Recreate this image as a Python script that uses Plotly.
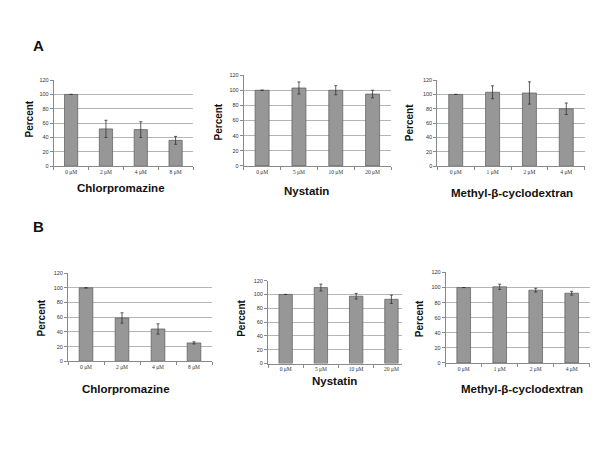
import plotly.graph_objects as go

W, H = 600, 450

# ---------------- data ----------------
chlor_labels = ["0 μM", "2 μM", "4 μM", "8 μM"]
nyst_labels = ["0 μM", "5 μM", "10 μM", "20 μM"]
mbcd_labels = ["0 μM", "1 μM", "2 μM", "4 μM"]

A_chlor = [100, 52, 51, 36]
A_chlor_err = [None, 12, 11, 5.5]
A_nyst = [100, 103, 100, 95]
A_nyst_err = [None, 8, 6, 5]
A_mbcd = [100, 103, 102, 80]
A_mbcd_err = [None, 9, 15.5, 8]

B_chlor = [100, 59, 44, 25]
B_chlor_err = [None, 7, 7, 1.5]
B_nyst = [100, 110, 97.5, 93]
B_nyst_err = [None, 5, 4, 6]
B_mbcd = [100, 101, 96.5, 92.5]
B_mbcd_err = [None, 3.5, 2.5, 2.5]

y_ticks = [0, 20, 40, 60, 80, 100, 120]
grid_vals = [20, 40, 60, 80, 100]

titles = ["Chlorpromazine", "Nystatin", "Methyl-β-cyclodextran"]

# ---------------- layout of panels (pixels) ----------------
panels = [
    (chlor_labels, A_chlor, A_chlor_err, (45.7, 185, 70, 157.3), [-0.5, 3.5], titles[0], (113, 179), (22, 110)),
    (nyst_labels, A_nyst, A_nyst_err, (235.7, 383, 65, 157), [-0.5, 3.5], titles[1], (298, 182.7), (210, 113)),
    (mbcd_labels, A_mbcd, A_mbcd_err, (429.3, 576.7, 70, 157.3), [-0.5, 3.5], titles[2], (504, 184), (401.7, 113)),
    (chlor_labels, B_chlor, B_chlor_err, (60, 204, 265.7, 355), [-0.5, 3.5], titles[0], (118, 382.7), (34, 311.7)),
    (nyst_labels, B_nyst, B_nyst_err, (260, 394, 273.3, 357.3), [-0.5, 3.3], titles[1], (326.7, 375), (233.3, 311.7)),
    (mbcd_labels, B_mbcd, B_mbcd_err, (437.7, 581.7, 265, 356.7), [-0.5, 3.5], titles[2], (514, 383.3), (411.7, 311.7)),
]

fig = go.Figure()
layout = dict(
    width=W, height=H,
    margin=dict(l=0, r=0, t=0, b=0),
    paper_bgcolor="white", plot_bgcolor="white",
    showlegend=False,
    bargap=0.62,
    font=dict(family="Liberation Sans, Arial, sans-serif", color="#222"),
)
annotations = []

for i, (labels, vals, errs, (x0, x1, yt, yb), xr, title, tpos, ppos) in enumerate(panels):
    n = "" if i == 0 else str(i + 1)
    fig.add_trace(go.Bar(
        x=labels, y=vals,
        xaxis="x" + n, yaxis="y" + n,
        marker=dict(color="#979797", line=dict(color="#5a5a5a", width=0.7)),
        error_y=dict(type="data", array=errs, visible=True, color="#333333", thickness=0.8, width=1.5),
    ))
    layout["xaxis" + n] = dict(
        domain=[x0 / W, x1 / W], anchor="y" + n, range=xr,
        type="category",
        showline=True, linecolor="#8a8a8a", linewidth=1,
        ticks="outside", tickson="boundaries", ticklen=3, tickcolor="#8a8a8a",
        tickfont=dict(family="Liberation Serif, Times New Roman, serif", size=5.5, color="#333"),
        showgrid=False, zeroline=False, fixedrange=True,
    )
    layout["yaxis" + n] = dict(
        domain=[1 - yb / H, 1 - yt / H], anchor="x" + n, range=[0, 120],
        tickvals=y_ticks, ticks="outside", ticklen=3, tickcolor="#8a8a8a",
        tickfont=dict(size=5.5, color="#333"),
        showline=True, linecolor="#8a8a8a", linewidth=1,
        showgrid=False, zeroline=False,
        minor=dict(tickvals=grid_vals, showgrid=True, gridcolor="#b5b5b5", gridwidth=1, ticklen=0),
    )
    annotations.append(dict(
        text="<b>" + title + "</b>", x=tpos[0] / W, y=1 - tpos[1] / H,
        xref="paper", yref="paper", xanchor="center", yanchor="middle",
        showarrow=False, font=dict(size=11.5, color="#111"),
    ))
    annotations.append(dict(
        text="<b>Percent</b>", x=ppos[0] / W, y=1 - ppos[1] / H,
        xref="paper", yref="paper", xanchor="center", yanchor="middle",
        textangle=-90, showarrow=False, font=dict(size=10, color="#111"),
    ))

annotations.append(dict(text="<b>A</b>", x=30 / W, y=1 - 35 / H, xref="paper", yref="paper",
                        xanchor="center", yanchor="middle", showarrow=False, font=dict(size=15, color="#111")))
annotations.append(dict(text="<b>B</b>", x=30.7 / W, y=1 - 218 / H, xref="paper", yref="paper",
                        xanchor="center", yanchor="middle", showarrow=False, font=dict(size=15, color="#111")))

layout["annotations"] = annotations
fig.update_layout(**layout)
fig.write_html("out.html")
